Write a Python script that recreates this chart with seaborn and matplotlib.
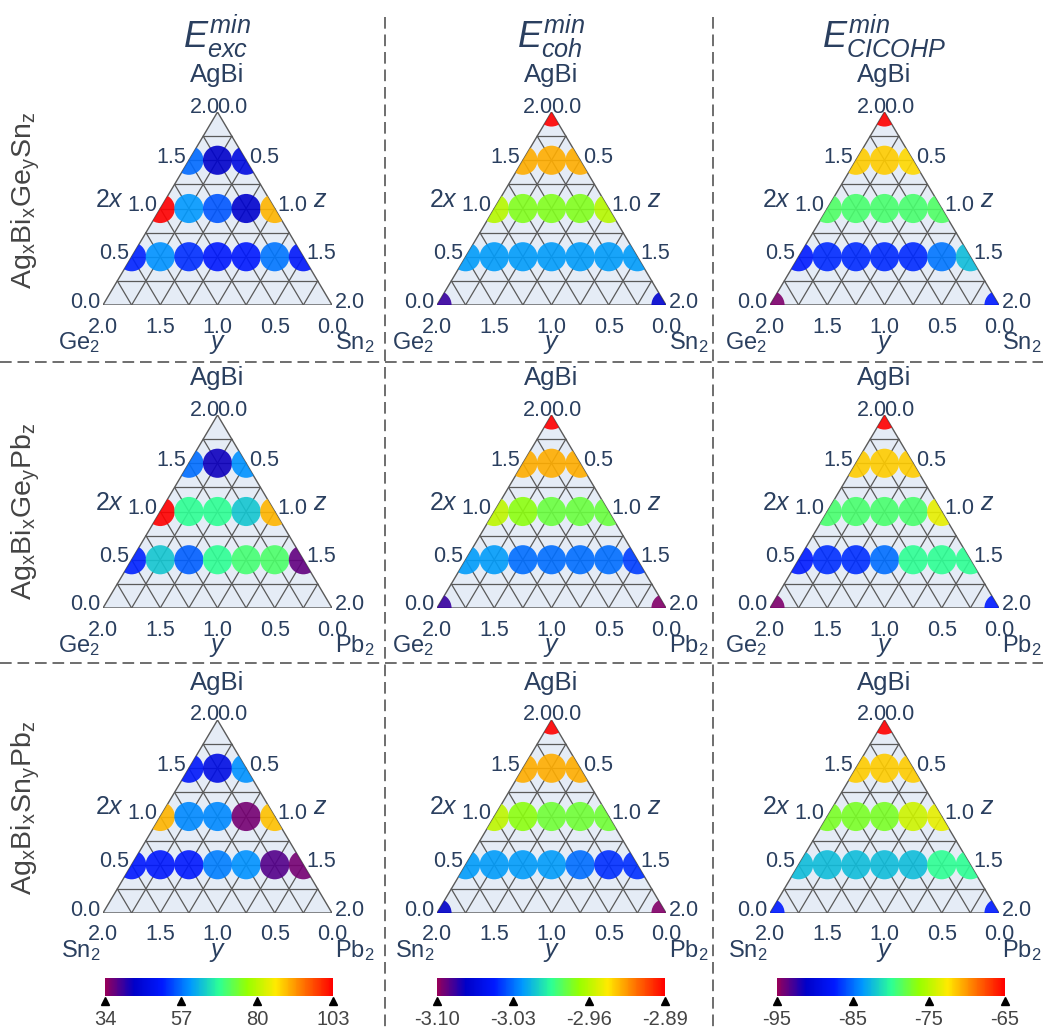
import numpy as np
import pandas as pd
import seaborn as sns
import matplotlib
matplotlib.use('Agg')
import matplotlib.pyplot as plt
from matplotlib.colors import LinearSegmentedColormap, Normalize
from matplotlib.patches import Polygon
from matplotlib.lines import Line2D
from matplotlib.cm import ScalarMappable

sns.set_theme(style='white')
plt.rcParams['font.family'] = ['Liberation Sans', 'DejaVu Sans']
plt.rcParams['mathtext.fontset'] = 'custom'
plt.rcParams['mathtext.rm'] = 'Liberation Sans'
plt.rcParams['mathtext.it'] = 'Liberation Sans:italic'

# compositions: 2x, y, z  (apex, row 1.5, row 1.0, row 0.5, left corner, right corner)
two_x = [2.0, 1.5, 1.5, 1.5, 1.0, 1.0, 1.0, 1.0, 1.0,
         0.5, 0.5, 0.5, 0.5, 0.5, 0.5, 0.5, 0.0, 0.0]
y_val = [0.0, 0.5, 0.25, 0.0, 1.0, 0.75, 0.5, 0.25, 0.0,
         1.5, 1.25, 1.0, 0.75, 0.5, 0.25, 0.0, 2.0, 0.0]
z_val = [0.0, 0.0, 0.25, 0.5, 0.0, 0.25, 0.5, 0.75, 1.0,
         0.0, 0.25, 0.5, 0.75, 1.0, 1.25, 1.5, 0.0, 2.0]

nan = np.nan
exc_gesn = [nan, 56.8, 43, 46.4, 103, 60, 55.5, 43.7, 89.5,
            52, 59.5, 52.6, 51, 51, 57.5, 50.6, nan, nan]
exc_gepb = [nan, 57, 42, 59.5, 103, 68.5, 68.5, 63.7, 89.5,
            52, 63.7, 56, 68.5, 70.6, 71, 37, nan, nan]
exc_snpb = [nan, 50.6, 47, 59.5, 89.5, 58.8, 58.8, 36, 88.5,
            51, 51, 51, 58, 59.5, 38, 36, nan, nan]

coh_gesn = [-2.89, -2.930, -2.930, -2.930, -2.961, -2.974, -2.974, -2.974, -2.961,
            -3.02, -3.02, -3.02, -3.02, -3.02, -3.02, -3.02, -3.083, -3.07]
coh_gepb = [-2.89, -2.930, -2.930, -2.930, -2.959, -2.972, -2.98, -2.98, -2.98,
            -3.02, -3.02, -3.03, -3.03, -3.03, -3.03, -3.04, -3.083, -3.096]
coh_snpb = [-2.89, -2.930, -2.930, -2.930, -2.959, -2.972, -2.978, -2.978, -2.978,
            -3.02, -3.02, -3.02, -3.02, -3.03, -3.043, -3.043, -3.073, -3.096]

cicohp_gesn = [-65, -71.6, -71.6, -72, -78.8, -79, -79, -79, -78.8,
               -87.5, -87, -87, -87, -87, -84.8, -82.4, -94.4, -87.5]
cicohp_gepb = [-65, -71.6, -71.6, -71.6, -79, -79, -79, -79, -73.4,
               -87.5, -86.8, -86.8, -85, -80, -80, -80, -94.4, -87.5]
cicohp_snpb = [-65, -71.6, -71.6, -71.6, -77.3, -77.3, -77.3, -74.3, -73.4,
               -82.4, -82.4, -82.4, -82.4, -82.4, -80, -80, -87.5, -87.5]

col_titles = [r'$E^{min}_{exc}$', r'$E^{min}_{coh}$', r'$E^{min}_{CICOHP}$']
row_titles = [r'Ag$_\mathrm{x}$Bi$_\mathrm{x}$Ge$_\mathrm{y}$Sn$_\mathrm{z}$',
              r'Ag$_\mathrm{x}$Bi$_\mathrm{x}$Ge$_\mathrm{y}$Pb$_\mathrm{z}$',
              r'Ag$_\mathrm{x}$Bi$_\mathrm{x}$Sn$_\mathrm{y}$Pb$_\mathrm{z}$']
left_corner = [r'Ge$_2$', r'Ge$_2$', r'Sn$_2$']
right_corner = [r'Sn$_2$', r'Pb$_2$', r'Pb$_2$']
values = [[exc_gesn, coh_gesn, cicohp_gesn],
          [exc_gepb, coh_gepb, cicohp_gepb],
          [exc_snpb, coh_snpb, cicohp_snpb]]
col_ranges = [(34, 103), (-3.10, -2.89), (-95, -65)]
col_ticks = [[34, 57, 80, 103], [-3.10, -3.03, -2.96, -2.89], [-95, -85, -75, -65]]
col_fmt = ['{:.0f}', '{:.2f}', '{:.0f}']
axis_ticks = [0.0, 0.5, 1.0, 1.5, 2.0]

rainbow = LinearSegmentedColormap.from_list('plotly_rainbow', [
    (0.0, (150/255, 0, 90/255)), (0.125, (0, 0, 200/255)), (0.25, (0, 25/255, 1)),
    (0.375, (0, 152/255, 1)), (0.5, (44/255, 1, 150/255)), (0.625, (151/255, 1, 0)),
    (0.75, (1, 234/255, 0)), (0.875, (1, 111/255, 0)), (1.0, (1, 0, 0))])

W, H = 1043, 1032
fig = plt.figure(figsize=(W / 100, H / 100), dpi=100)
HT = np.sqrt(3) / 2
TXT = '#2a3f5f'
GRID = '#5a5a5a'
PT = 0.72  # points per pixel

col_left = [103, 437, 770]
row_base = [305, 608, 913]
side, tri_h = 229, 193


def cart(A, B, C):
    return C + A / 2, A * HT


def lab(ax, s, xy, dx, dy, ha, va='center', size=15.5):
    ax.annotate(s, xy=xy, xycoords='data', xytext=(dx * PT, dy * PT),
                textcoords='offset points', ha=ha, va=va, fontsize=size,
                color=TXT, annotation_clip=False)


for i in range(3):
    for j in range(3):
        bl, base = col_left[j], row_base[i]
        ax = fig.add_axes([bl / W, 1 - base / H, side / W, tri_h / H])
        ax.set_xlim(0, 1)
        ax.set_ylim(0, HT)
        ax.axis('off')
        tri = Polygon([(0, 0), (1, 0), (0.5, HT)], closed=True, fc='#E5ECF6',
                      ec=GRID, lw=1.0, zorder=0)
        ax.add_patch(tri)
        for k in range(1, 8):
            t = k / 8
            for p, q in [((t, 1 - t, 0), (t, 0, 1 - t)),
                         ((1 - t, t, 0), (0, t, 1 - t)),
                         ((1 - t, 0, t), (0, 1 - t, t))]:
                x0, y0 = cart(*p)
                x1, y1 = cart(*q)
                ax.plot([x0, x1], [y0, y1], color=GRID, lw=0.9, zorder=1)

        A = np.array(two_x) / 2
        C = np.array(z_val) / 2
        df = pd.DataFrame({'cx': C + A / 2, 'cy': A * HT, 'val': values[i][j]}).dropna()
        sns.scatterplot(data=df, x='cx', y='cy', hue='val', palette=rainbow,
                        hue_norm=col_ranges[j], s=440, linewidth=0, alpha=0.9,
                        legend=False, ax=ax, zorder=2)
        ax.collections[-1].set_clip_path(tri)
        ax.set_xlabel('')
        ax.set_ylabel('')

        # axis tick labels
        for v in axis_ticks:
            f = v / 2
            # left (2x)
            if v < 2.0:
                lab(ax, f'{v:.1f}', cart(f, 1 - f, 0), -3, 3, 'right')
            else:
                lab(ax, f'{v:.1f}', cart(1, 0, 0), 2, 5, 'right')
            # right (z)
            if v > 0:
                lab(ax, f'{v:.1f}', cart(1 - f, 0, f), 3, 3, 'left')
            else:
                lab(ax, f'{v:.1f}', cart(1, 0, 0), 0, 5, 'left')
            # bottom (y)
            lab(ax, f'{v:.1f}', cart(0, f, 1 - f), 0, -22, 'center')
        lab(ax, 'AgBi', (0.5, HT), 0, 37, 'center', size=18.5)
        lab(ax, r'$2x$', (0.25, 0.5 * HT), -36, 9, 'right', size=18)
        lab(ax, r'$z$', (0.75, 0.5 * HT), 38, 9, 'left', size=18)
        lab(ax, r'$y$', (0.5, 0), 0, -39, 'center', size=18)
        lab(ax, left_corner[i], (0, 0), -3, -38, 'right', size=17)
        lab(ax, right_corner[i], (1, 0), 3, -38, 'left', size=17)

# column titles and row titles
apex_x = [c + side / 2 for c in col_left]
for j in range(3):
    fig.text(apex_x[j] / W, 1 - 36 / H, col_titles[j], ha='center', va='center',
             fontsize=26, color=TXT)
row_y = [200, 511, 808]
for i in range(3):
    fig.text(26 / W, 1 - row_y[i] / H, row_titles[i], rotation=90, ha='center',
             va='center', fontsize=20.5, color='#444444')

# dashed separators
for x in [385, 713]:
    ln = Line2D([x / W, x / W], [1 - 17 / H, 0], transform=fig.transFigure,
                color='#555555', lw=1.2)
    ln.set_dashes((7, 3.5))
    fig.add_artist(ln)
for y in [362, 663]:
    ln = Line2D([0, 1], [1 - y / H, 1 - y / H], transform=fig.transFigure,
                color='#555555', lw=1.2)
    ln.set_dashes((7, 3.5))
    fig.add_artist(ln)

# colorbars
cb_left = [105, 437, 777]
for j in range(3):
    cax = fig.add_axes([cb_left[j] / W, 1 - 996 / H, 228 / W, 18 / H])
    sm = ScalarMappable(norm=Normalize(*col_ranges[j]), cmap=rainbow)
    cb = fig.colorbar(sm, cax=cax, orientation='horizontal')
    cb.outline.set_visible(False)
    cb.set_ticks(col_ticks[j])
    cb.set_ticklabels([col_fmt[j].format(t) for t in col_ticks[j]])
    cax.tick_params(axis='x', length=0, pad=10, labelsize=14.5, labelcolor='#444444')
    cax.plot(col_ticks[j], [-0.3] * 4, linestyle='none', marker='^', color='black',
             markersize=6, transform=cax.get_xaxis_transform(), clip_on=False)

fig.savefig('out.png', dpi=100)
